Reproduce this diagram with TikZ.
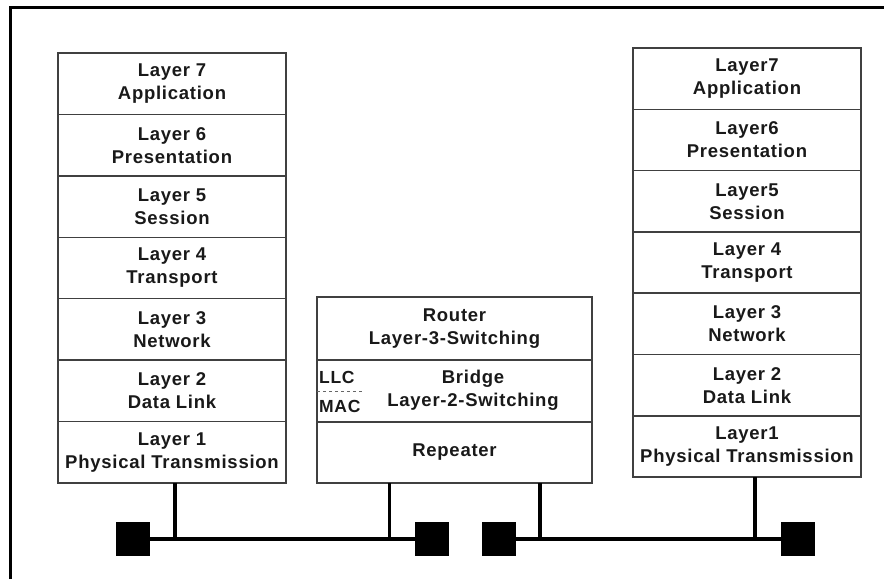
\documentclass[tikz,border=0pt]{standalone}
\usepackage{fontspec}
\setmainfont{Liberation Sans}[LetterSpace=4]
\usetikzlibrary{positioning}

\tikzset{
    layer/.style={draw=black!75, line width=1.5pt, minimum width=228pt, minimum height=61.4pt,
        anchor=north, align=center, inner sep=0pt, outer sep=0pt, text=black!90,
        font=\bfseries\fontsize{18.5}{23}\selectfont},
    sublabel/.style={anchor=west, inner sep=0pt, text=black!90, font=\bfseries\fontsize{17.5}{20}\selectfont},
    bus/.style={line width=3.2pt},
    station/.style={fill=black, minimum size=34pt, inner sep=0pt, outer sep=0pt},
}

\begin{document}
\begin{tikzpicture}[x=1pt, y=-1pt]
    \useasboundingbox (0,0) rectangle (884,579);
    % frame
    \draw[line width=3pt] (10,579) -- (10,7) -- (884,7);
    % left stack
    \foreach \n/\txt [count=\i from 0] in {7/Application, 6/Presentation, 5/Session, 4/Transport,
            3/Network, 2/Data Link, 1/Physical Transmission} {
        \node[layer] (L\n) at (172, {53+61.43*\i}) {Layer \n\\\txt};
    }
    % right stack
    \foreach \lbl/\txt [count=\i from 0] in {Layer7/Application, Layer6/Presentation, Layer5/Session,
            Layer 4/Transport, Layer 3/Network, Layer 2/Data Link, Layer1/Physical Transmission} {
        \node[layer] (R\i) at (747, {48+61.3*\i}) {\lbl\\\txt};
    }
    % middle: coupling devices
    \node[layer, minimum width=275pt, minimum height=63pt] (router) at (454.5,297) {Router\\Layer-3-Switching};
    \node[layer, minimum width=275pt, minimum height=62pt, below=0pt of router] (bridge) {};
    \node[layer, minimum width=275pt, minimum height=61pt, below=0pt of bridge] (repeater) {Repeater};
    \node[layer, draw=none, anchor=center] (bridgetxt) at (473,390) {Bridge\\Layer-2-Switching};
    \node[sublabel] (llc) at (319,377) {LLC};
    \node[sublabel] (mac) at (319,406) {MAC};
    \coordinate (sep) at (bridge.west |- 0,391);
    \draw[dashed, black!60, line width=1pt] (sep) -- ++(47,0);
    % bus
    \foreach \name/\x in {s1/132.5, s2/432, s3/498.5, s4/798} {
        \node[station] (\name) at (\x,539) {};
    }
    \draw[bus] (s1) -- (s2);
    \draw[bus] (s3) -- (s4);
    \draw[bus] ([xshift=3pt]L1.south) -- ([xshift=3pt]L1.south |- s1);
    \draw[bus] ([xshift=-65pt]repeater.south) -- ([xshift=-65pt]repeater.south |- s2);
    \draw[bus] ([xshift=85.5pt]repeater.south) -- ([xshift=85.5pt]repeater.south |- s3);
    \draw[bus] ([xshift=8pt]R6.south) -- ([xshift=8pt]R6.south |- s4);
\end{tikzpicture}
\end{document}
